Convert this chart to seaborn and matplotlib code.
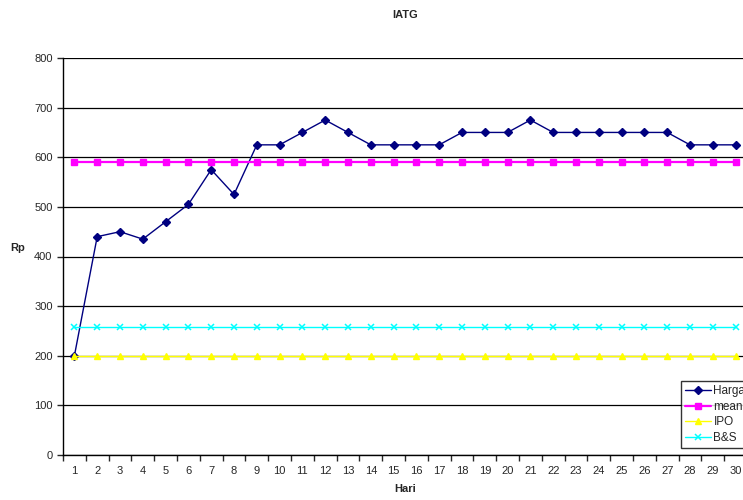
import matplotlib
matplotlib.use("Agg")
import matplotlib.pyplot as plt
import numpy as np
import pandas as pd
import seaborn as sns

days = list(range(1, 31))
harga = [200, 440, 450, 435, 470, 505, 575, 525, 625, 625,
         650, 675, 650, 625, 625, 625, 625, 650, 650, 650,
         675, 650, 650, 650, 650, 650, 650, 625, 625, 625]
mean_val = [591] * 30
ipo = [200] * 30
bs = [257] * 30

series = {"Harga": harga, "mean": mean_val, "IPO": ipo, "B&S": bs}
styles = {
    "Harga": dict(color="#000080", marker="D", markersize=4),
    "mean": dict(color="#FF00FF", marker="s", markersize=5),
    "IPO": dict(color="#FFFF00", marker="^", markersize=5),
    "B&S": dict(color="#00FFFF", marker="x", markersize=5, mew=1.1),
}

frame = pd.DataFrame(
    [(d, name, v) for name, vals in series.items() for d, v in zip(days, vals)],
    columns=["Hari", "series", "Rp"],
)

sns.set_style("white")
plt.rcParams["font.family"] = ["Liberation Sans", "DejaVu Sans"]

fig = plt.figure(figsize=(7.43, 5.0), dpi=100)
# plot area runs past the right edge like the cropped original
ax = fig.add_axes([63 / 743, 45 / 500, 684 / 743, 397 / 500])

for name in series:
    sub = frame[frame["series"] == name]
    st = styles[name]
    sns.lineplot(data=sub, x="Hari", y="Rp", ax=ax, label=name,
                 color=st["color"], marker=st["marker"],
                 markersize=st["markersize"], markeredgecolor=st["color"],
                 markeredgewidth=st.get("mew", 1),
                 linewidth=1.6 if name == "mean" else 1.0)

ax.set_xlim(0.5, 30.5)
ax.set_ylim(0, 800)
ax.set_yticks(np.arange(0, 801, 100))
ax.set_xticks(days)
ax.set_xticks(np.arange(0.5, 31, 1), minor=True)
ax.tick_params(axis="x", which="major", length=0, labelsize=8, pad=8)
ax.tick_params(axis="x", which="minor", length=4, width=1, direction="out", bottom=True)
ax.tick_params(axis="y", length=4, width=1, direction="out", left=True, labelsize=8)
ax.yaxis.grid(True, color="black", linewidth=0.9)
ax.set_axisbelow(True)
for side in ["top", "right"]:
    ax.spines[side].set_visible(False)
for side in ["left", "bottom"]:
    ax.spines[side].set_color("black")
    ax.spines[side].set_linewidth(1)

ax.set_xlabel("Hari", fontsize=8, fontweight="bold", labelpad=6)
ax.set_ylabel("")
fig.text(18 / 743, 1 - 248 / 500, "Rp", fontsize=8, fontweight="bold", ha="center", va="center")
fig.text(405 / 743, 1 - 15 / 500, "IATG", fontsize=8, fontweight="bold", ha="center", va="center")

leg = ax.legend(loc="lower left", bbox_to_anchor=(681 / 743, 52 / 500),
                bbox_transform=fig.transFigure, fontsize=8.5, frameon=True,
                fancybox=False, borderpad=0.35, labelspacing=0.3,
                handlelength=2.2, handletextpad=0.2, borderaxespad=0)
leg.get_frame().set_edgecolor("black")
leg.get_frame().set_linewidth(1)

fig.savefig("out.png", dpi=100)
